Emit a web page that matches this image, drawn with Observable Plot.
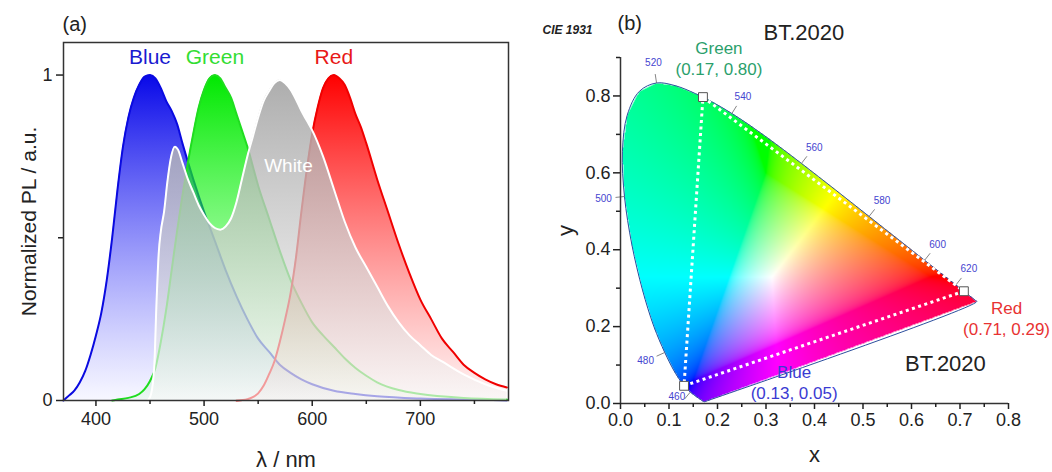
<!DOCTYPE html>
<html><head><meta charset="utf-8">
<script src="https://cdn.jsdelivr.net/npm/d3@7"></script>
<script src="https://cdn.jsdelivr.net/npm/@observablehq/plot@0.6"></script>
<style>
html,body{margin:0;padding:0;background:#fff;}
#wrap{position:relative;width:1052px;height:472px;overflow:hidden;font-family:"Liberation Sans",Arial,sans-serif;}
#wrap svg{position:absolute;top:0;}
</style></head><body><div id="wrap"></div>
<script>
// ---------- Panel (a) data: normalized PL spectra [wavelength nm, intensity] ----------
const blueSpectrum = [[370,0],[375,0.015],[380,0.03],[385,0.055],[390,0.09],[395,0.14],[400,0.2],[405,0.27],[410,0.37],[415,0.5],[420,0.65],[425,0.78],[430,0.87],[435,0.93],[440,0.97],[445,0.995],[450,1.0],[455,0.99],[460,0.96],[465,0.92],[470,0.89],[475,0.85],[480,0.79],[490,0.68],[500,0.58],[510,0.49],[520,0.4],[530,0.32],[540,0.25],[550,0.19],[560,0.15],[570,0.11],[580,0.085],[590,0.065],[600,0.05],[620,0.03],[640,0.02],[660,0.013],[700,0.006],[740,0.003],[780,0.001]];
const greenSpectrum = [[415,0],[420,0.003],[430,0.008],[440,0.02],[445,0.035],[450,0.06],[455,0.1],[460,0.18],[465,0.28],[470,0.4],[475,0.52],[480,0.63],[485,0.73],[490,0.82],[495,0.9],[500,0.955],[505,0.99],[510,1.0],[515,0.99],[520,0.96],[525,0.93],[530,0.88],[535,0.83],[540,0.78],[550,0.66],[560,0.56],[570,0.46],[580,0.37],[590,0.3],[600,0.24],[610,0.2],[620,0.165],[630,0.13],[640,0.1],[650,0.076],[660,0.056],[680,0.032],[700,0.02],[740,0.008],[780,0.003]];
const redSpectrum = [[530,0],[540,0.004],[545,0.01],[550,0.022],[555,0.045],[560,0.08],[565,0.12],[570,0.18],[575,0.25],[580,0.33],[585,0.44],[590,0.58],[595,0.71],[600,0.82],[605,0.9],[610,0.96],[615,0.99],[620,1.0],[625,0.99],[630,0.97],[635,0.93],[640,0.88],[645,0.84],[650,0.79],[660,0.68],[670,0.58],[680,0.48],[690,0.39],[700,0.31],[710,0.25],[720,0.19],[730,0.15],[740,0.11],[750,0.085],[760,0.065],[770,0.05],[780,0.04]];
const whiteSpectrum = [[448,0],[451,0.02],[454,0.11],[456,0.3],[458,0.45],[460,0.52],[463,0.58],[466,0.67],[469,0.74],[473,0.78],[476,0.77],[480,0.73],[485,0.68],[490,0.64],[495,0.6],[500,0.57],[505,0.545],[510,0.53],[515,0.525],[520,0.535],[525,0.56],[530,0.61],[535,0.68],[540,0.75],[545,0.81],[550,0.87],[555,0.92],[560,0.95],[565,0.975],[570,0.985],[575,0.975],[580,0.955],[585,0.925],[590,0.89],[595,0.86],[600,0.83],[610,0.75],[620,0.65],[630,0.55],[640,0.47],[650,0.41],[660,0.35],[670,0.29],[680,0.24],[690,0.2],[700,0.17],[710,0.14],[720,0.12],[740,0.08],[760,0.05],[780,0.03]];
const spectrumLabels = ["Blue","Green","Red"];
const spectrumPeaks = [450,510,620];
const whiteLabel = "White";
const xTicksA = [400,500,600,700];
const xMinorA = [450,550,650,750];
const yTicksA = [0,1];
const yMinorA = [0.5];

// ---------- Panel (b) data: CIE 1931 spectral locus ----------
const locusWavelength = [380,400,420,440,450,460,465,470,475,480,485,490,495,500,505,510,515,520,525,530,535,540,545,550,555,560,565,570,575,580,585,590,595,600,605,610,620,630,640,650,680,700];
const locusX = [0.1741,0.1733,0.1714,0.1644,0.1566,0.1440,0.1355,0.1241,0.1096,0.0913,0.0687,0.0454,0.0235,0.0082,0.0039,0.0139,0.0389,0.0743,0.1142,0.1547,0.1929,0.2296,0.2658,0.3016,0.3373,0.3731,0.4087,0.4441,0.4788,0.5125,0.5448,0.5752,0.6029,0.6270,0.6482,0.6658,0.6915,0.7079,0.7190,0.7260,0.7317,0.7347];
const locusY = [0.0050,0.0048,0.0051,0.0109,0.0177,0.0297,0.0399,0.0578,0.0868,0.1327,0.2007,0.2950,0.4127,0.5384,0.6548,0.7502,0.8120,0.8338,0.8262,0.8059,0.7816,0.7543,0.7243,0.6923,0.6589,0.6245,0.5896,0.5547,0.5202,0.4866,0.4544,0.4242,0.3965,0.3725,0.3514,0.3340,0.3083,0.2920,0.2809,0.2740,0.2683,0.2653];
const tickWavelengths = [460,480,500,520,540,560,580,600,620];
const primaryNames = ["Green","Red","Blue"];
const primaryX = [0.170,0.708,0.131];
const primaryY = [0.797,0.292,0.046];
const primaryCoordLabels = ["(0.17, 0.80)","(0.71, 0.29)","(0.13, 0.05)"];
const xTicksB = [0,0.1,0.2,0.3,0.4,0.5,0.6,0.7,0.8];
const xMinorB = [0.05,0.15,0.25,0.35,0.45,0.55,0.65,0.75];
const yTicksB = [0,0.2,0.4,0.6,0.8];
const yMinorB = [0.1,0.3,0.5,0.7,0.9];

const FONT = "Liberation Sans, Arial, sans-serif";
const wrap = document.getElementById("wrap");

// ================= Panel (a) =================
const toRows = s => s.map(([w, v]) => ({w, v}));
const series = [
  {rows: toRows(blueSpectrum), grad: "gBlue", stroke: "#0a0ae0"},
  {rows: toRows(greenSpectrum), grad: "gGreen", stroke: "#20dd20"},
  {rows: toRows(redSpectrum), grad: "gRed", stroke: "#f00000"},
  {rows: toRows(whiteSpectrum), grad: "gWhite", stroke: "#ffffff"}
];
const marksA = [];
for (const s of series) {
  marksA.push(Plot.areaY(s.rows, {x: "w", y: "v", fill: `url(#${s.grad})`, curve: "monotone-x"}));
  marksA.push(Plot.line(s.rows, {x: "w", y: "v", stroke: s.stroke, strokeWidth: 2, curve: "monotone-x"}));
}
const labelColorsA = ["#1a1ad0","#33dd33","#e81818"];
marksA.push(
  Plot.frame({stroke: "#333", strokeWidth: 1.5}),
  Plot.axisX(xTicksA, {label: null, tickSize: 6, tickPadding: 6, fontSize: 18, tickFormat: d => String(d), strokeWidth: 1.5}),
  Plot.axisX(xMinorA, {label: null, tickSize: 4, tickFormat: () => "", strokeWidth: 1.5}),
  Plot.axisY(yTicksA, {label: null, tickSize: 7, tickPadding: 4, fontSize: 18, tickFormat: d => String(d), strokeWidth: 1.5}),
  Plot.axisY(yMinorA, {label: null, tickSize: 5, tickFormat: () => "", strokeWidth: 1.5}),
  Plot.text(spectrumLabels, {x: (d, i) => spectrumPeaks[i], y: 1.055, text: d => d, fill: (d, i) => labelColorsA[i], fontSize: 21}),
  Plot.text([whiteLabel], {x: 578, y: 0.72, text: d => d, fill: "#ffffff", fontSize: 19}),
  Plot.text(["(a)"], {frameAnchor: "top-left", lineAnchor: "middle", dx: -1, dy: -18, text: d => d, fontSize: 20, fill: "#222"}),
  Plot.text(["λ / nm"], {frameAnchor: "bottom", lineAnchor: "middle", dy: 59, text: d => d, fontSize: 22, fill: "#222"}),
  Plot.text(["Normalized PL / a.u."], {frameAnchor: "left", textAnchor: "middle", dx: -34, rotate: -90, text: d => d, fontSize: 21, fill: "#222"})
);
const svgA = Plot.plot({
  width: 540, height: 472,
  marginTop: 42, marginRight: 32, marginBottom: 72, marginLeft: 63,
  x: {domain: [370, 781.5], label: null},
  y: {domain: [0, 1.1], label: null},
  style: {fontFamily: FONT, color: "#222", background: "transparent", overflow: "visible"},
  marks: marksA
});
svgA.style.left = "0px";
{
  const defs = d3.select(svgA).insert("defs", ":first-child");
  const grads = [
    ["gBlue", "#0808e8", 1, "#4848ff", 0.04],
    ["gGreen", "#00e800", 1, "#40ff40", 0.05],
    ["gRed", "#ff0000", 1, "#ff4040", 0.06],
    ["gWhite", "#a2a2a2", 0.88, "#f8f8f8", 0.62]
  ];
  for (const [id, c0, o0, c1, o1] of grads) {
    const g = defs.append("linearGradient").attr("id", id).attr("x1", 0).attr("y1", 0).attr("x2", 0).attr("y2", 1);
    g.append("stop").attr("offset", "0%").attr("stop-color", c0).attr("stop-opacity", o0);
    g.append("stop").attr("offset", "100%").attr("stop-color", c1).attr("stop-opacity", o1);
  }
}
wrap.appendChild(svgA);

// ================= Panel (b) =================
const W_B = 512, H_B = 472, mT = 57, mR = 44, mB = 69, mL = 80;
const xDomB = [0, 0.8], yDomB = [0, 0.9];
const pxX = (W_B - mL - mR) / (xDomB[1] - xDomB[0]);
const pxY = (H_B - mT - mB) / (yDomB[1] - yDomB[0]);

const locus = locusWavelength.map((w, i) => ({w, x: locusX[i], y: locusY[i]}));
const polygon = locus.map(d => [d.x, d.y]);
const outline = [...locus, locus[0]];

function cieColor(x, y) {
  if (y <= 0 || !d3.polygonContains(polygon, [x, y])) return "#ffffff";
  const X = x / y, Y = 1, Z = (1 - x - y) / y;
  let r = 3.2406 * X - 1.5372 * Y - 0.4986 * Z;
  let g = -0.9689 * X + 1.8758 * Y + 0.0415 * Z;
  let b = 0.0557 * X - 0.2040 * Y + 1.0570 * Z;
  const neg = Math.min(0, r, g, b) * 0.5;
  r = Math.max(0, r - neg); g = Math.max(0, g - neg); b = Math.max(0, b - neg);
  const m = Math.max(r, g, b) || 1;
  const gam = v => v <= 0.0031308 ? 12.92 * v : 1.055 * Math.pow(v, 1 / 2.4) - 0.055;
  return d3.rgb(gam(r / m) * 255, gam(g / m) * 255, gam(b / m) * 255).formatHex();
}

// wavelength tick marks: perpendicular to locus, outward
const wlTicks = tickWavelengths.map(w => {
  const i = locusWavelength.indexOf(w);
  const p = locus[i], a = locus[i - 1], c = locus[i + 1];
  let tx = (c.x - a.x) * pxX, ty = (c.y - a.y) * pxY;
  let nx = -ty, ny = tx;
  const len = Math.hypot(nx, ny);
  nx /= len; ny /= len;
  const ox = (p.x - 0.31) * pxX, oy = (p.y - 0.33) * pxY;
  if (nx * ox + ny * oy < 0) { nx = -nx; ny = -ny; }
  return {
    w, x: p.x, y: p.y,
    x2: p.x + nx * 9 / pxX, y2: p.y + ny * 9 / pxY,
    lx: p.x + nx * 21 / pxX, ly: Math.max(0.018, p.y + ny * 20 / pxY)
  };
});

const primaries = primaryNames.map((n, i) => ({n, x: primaryX[i], y: primaryY[i], c: primaryCoordLabels[i]}));
const triangle = [...primaries, primaries[0]];
const primaryColors = {Green: "#2b9f6c", Red: "#e83232", Blue: "#3b3bd2"};
const primaryLabelX = {Green: 0.203, Red: 0.796, Blue: 0.358};
const primaryLabelY = {Green: 0.922, Red: 0.246, Blue: 0.08};
const primaryLabelGap = 0.054;

const marksB = [
  Plot.raster({x1: 0, y1: 0, x2: 0.8, y2: 0.9, fill: cieColor, pixelSize: 1}),
  Plot.line(outline, {x: "x", y: "y", stroke: "#2c4f9e", strokeWidth: 1, curve: "catmull-rom"}),
  Plot.link(wlTicks, {x1: "x", y1: "y", x2: "x2", y2: "y2", stroke: "#666", strokeWidth: 0.8}),
  Plot.text(wlTicks, {x: "lx", y: "ly", text: d => String(d.w), fill: "#4545d0", fontSize: 10}),
  Plot.line(triangle, {x: "x", y: "y", stroke: "#ffffff", strokeWidth: 3, strokeDasharray: "3,3.5", strokeLinecap: "butt"}),
  Plot.dot(primaries, {x: "x", y: "y", symbol: "square", r: 5, fill: "#ffffff", stroke: "#555", strokeWidth: 1}),
  Plot.ruleX([0], {y1: 0, y2: 0.9, stroke: "#333", strokeWidth: 1.5}),
  Plot.ruleY([0], {x1: 0, x2: 0.8, stroke: "#333", strokeWidth: 1.5}),
  Plot.axisX(xTicksB, {label: null, tickSize: 6, tickPadding: 4, fontSize: 18, tickFormat: d3.format(".1f"), strokeWidth: 1.5}),
  Plot.axisX(xMinorB, {label: null, tickSize: 4, tickFormat: () => "", strokeWidth: 1.5}),
  Plot.axisY(yTicksB, {label: null, tickSize: 7, tickPadding: 3, fontSize: 18, tickFormat: d3.format(".1f"), strokeWidth: 1.5}),
  Plot.axisY(yMinorB, {label: null, tickSize: 4, tickFormat: () => "", strokeWidth: 1.5}),
  Plot.text(primaries, {x: d => primaryLabelX[d.n], y: d => primaryLabelY[d.n], text: "n", fill: d => primaryColors[d.n], fontSize: 17}),
  Plot.text(primaries, {x: d => primaryLabelX[d.n], y: d => primaryLabelY[d.n] - primaryLabelGap, text: "c", fill: d => primaryColors[d.n], fontSize: 17}),
  Plot.text(["BT.2020"], {frameAnchor: "top-left", lineAnchor: "middle", dx: 143, dy: -25, text: d => d, fontSize: 22, fill: "#222"}),
  Plot.text(["BT.2020"], {x: 0.67, y: 0.104, text: d => d, fontSize: 22, fill: "#222"}),
  Plot.text(["(b)"], {frameAnchor: "top-left", lineAnchor: "middle", dx: -3, dy: -34, text: d => d, fontSize: 20, fill: "#222"}),
  Plot.text(["CIE 1931"], {frameAnchor: "top-left", lineAnchor: "middle", dx: -78, dy: -27, text: d => d, fontSize: 12, fontWeight: "bold", fontStyle: "italic", fill: "#222"}),
  Plot.text(["x"], {frameAnchor: "bottom", lineAnchor: "middle", dy: 51, text: d => d, fontSize: 22, fill: "#222"}),
  Plot.text(["y"], {frameAnchor: "left", textAnchor: "middle", dx: -55, rotate: -90, text: d => d, fontSize: 22, fill: "#222"})
];
const svgB = Plot.plot({
  width: W_B, height: H_B,
  marginTop: mT, marginRight: mR, marginBottom: mB, marginLeft: mL,
  x: {domain: xDomB, label: null},
  y: {domain: yDomB, label: null},
  style: {fontFamily: FONT, color: "#222", background: "transparent", overflow: "visible"},
  marks: marksB
});
svgB.style.left = "540px";
wrap.appendChild(svgB);
</script>
</body></html>
